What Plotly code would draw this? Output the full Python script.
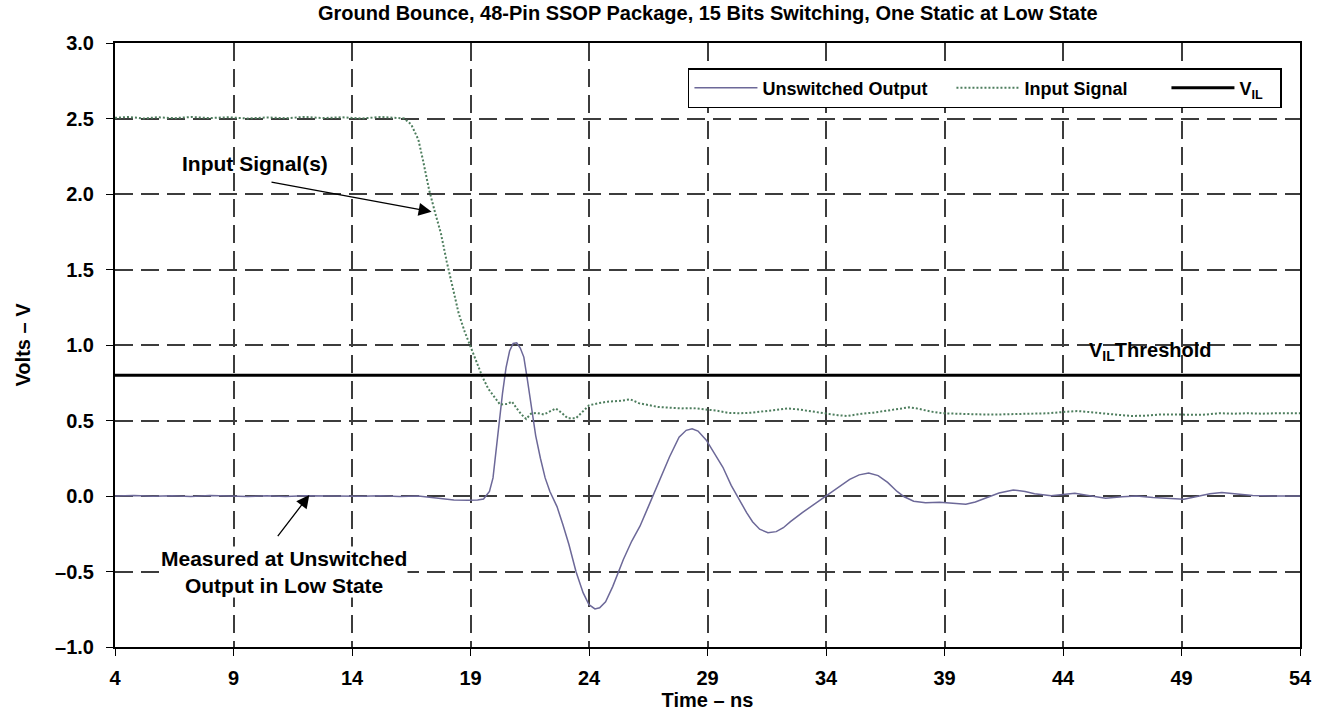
import plotly.graph_objects as go

# ---------------- data ----------------
out_x = [4.0, 4.8, 5.6, 6.4, 7.2, 8.0, 8.8, 9.6, 10.4, 11.2, 12.0, 12.8, 13.6, 14.4, 15.2, 16.0, 16.8,
         17.3, 17.8, 18.3, 18.9, 19.3, 19.55, 19.8, 19.95, 20.05, 20.2, 20.35, 20.5, 20.65, 20.8, 20.95,
         21.1, 21.25, 21.4, 21.55, 21.75, 21.95, 22.15, 22.35, 22.65, 22.9, 23.15, 23.45, 23.75, 24.0,
         24.25, 24.45, 24.7, 25.0, 25.45, 25.8, 26.15, 26.45, 26.7, 27.05, 27.4, 27.8, 28.1, 28.35, 28.6,
         28.95, 29.3, 29.65, 30.0, 30.35, 30.65, 30.9, 31.2, 31.55, 31.9, 32.2, 32.5, 33.0, 33.5, 34.0,
         34.5, 35.0, 35.4, 35.8, 36.2, 36.6, 37.0, 37.3, 37.7, 38.2, 38.8, 39.4, 39.9, 40.3, 40.8, 41.3,
         41.9, 42.4, 42.8, 43.5, 44.0, 44.5, 45.0, 45.8, 46.5, 47.1, 47.8, 48.5, 49.1, 49.6, 50.2, 50.7,
         51.3, 52.0, 52.8, 53.5, 54.0]
out_y = [0.0, 0.003, -0.002, 0.002, -0.003, 0.003, 0.0, -0.004, 0.002, -0.003, 0.002, 0.0, 0.003, -0.002,
         0.002, -0.003, 0.0, -0.008, -0.02, -0.026, -0.028, -0.027, -0.02, 0.03, 0.12, 0.26, 0.48, 0.68,
         0.85, 0.96, 1.01, 1.015, 0.98, 0.92, 0.77, 0.60, 0.40, 0.25, 0.12, 0.03, -0.07, -0.19, -0.32,
         -0.50, -0.64, -0.72, -0.748, -0.74, -0.70, -0.60, -0.42, -0.30, -0.20, -0.09, 0.0, 0.13, 0.26,
         0.39, 0.435, 0.445, 0.43, 0.37, 0.28, 0.19, 0.07, -0.03, -0.11, -0.17, -0.22, -0.243, -0.236,
         -0.21, -0.17, -0.11, -0.055, 0.0, 0.06, 0.11, 0.14, 0.152, 0.135, 0.09, 0.03, -0.005, -0.035,
         -0.045, -0.042, -0.05, -0.055, -0.04, -0.01, 0.02, 0.04, 0.03, 0.015, 0.002, 0.01, 0.018, 0.005,
         -0.015, -0.005, 0.0, -0.01, -0.015, -0.022, -0.005, 0.015, 0.024, 0.015, 0.003, 0.0, 0.0, 0.0]

in_x = [4.0, 4.6, 5.2, 5.8, 6.5, 7.2, 8.0, 8.8, 9.6, 10.4, 11.2, 12.0, 12.8, 13.6, 14.4, 15.2, 15.8, 16.2,
        16.5, 16.8, 17.0, 17.25, 17.5, 17.75, 18.0, 18.25, 18.5, 18.75, 19.0, 19.25, 19.5, 19.75, 20.0,
        20.25, 20.55, 20.75, 20.95, 21.15, 21.35, 21.55, 21.8, 22.1, 22.35, 22.6, 22.85, 23.1, 23.45,
        23.75, 24.0, 24.4, 24.8, 25.3, 25.75, 26.1, 26.5, 26.9, 27.4, 27.9, 28.4, 28.9, 29.4, 29.9, 30.4,
        30.9, 31.4, 31.9, 32.4, 32.9, 33.4, 34.0, 34.5, 34.9, 35.5, 36.0, 36.6, 37.1, 37.5, 37.9, 38.4,
        38.9, 39.5, 40.1, 40.6, 41.3, 42.0, 42.7, 43.4, 44.0, 44.6, 45.1, 45.7, 46.3, 46.9, 47.5, 48.1,
        48.7, 49.3, 49.9, 50.6, 51.2, 51.8, 52.4, 53.0, 53.6, 54.0]
in_y = [2.505, 2.51, 2.50, 2.508, 2.502, 2.51, 2.503, 2.508, 2.50, 2.507, 2.502, 2.51, 2.503, 2.508, 2.50,
        2.51, 2.505, 2.50, 2.46, 2.36, 2.22, 2.03, 1.88, 1.74, 1.55, 1.38, 1.21, 1.09, 0.99, 0.89, 0.79,
        0.71, 0.655, 0.605, 0.61, 0.625, 0.58, 0.54, 0.51, 0.545, 0.55, 0.54, 0.56, 0.58, 0.55, 0.515,
        0.515, 0.56, 0.60, 0.615, 0.625, 0.63, 0.64, 0.615, 0.60, 0.59, 0.585, 0.58, 0.582, 0.575, 0.565,
        0.55, 0.548, 0.552, 0.562, 0.575, 0.58, 0.572, 0.56, 0.548, 0.535, 0.53, 0.545, 0.552, 0.565,
        0.58, 0.587, 0.578, 0.56, 0.548, 0.545, 0.54, 0.54, 0.54, 0.542, 0.545, 0.548, 0.556, 0.563,
        0.556, 0.545, 0.538, 0.53, 0.532, 0.54, 0.54, 0.543, 0.538, 0.548, 0.545, 0.548, 0.545, 0.548,
        0.55, 0.548]

vil_x = [4, 54]
vil_y = [0.8, 0.8]

x_ticks = [4, 9, 14, 19, 24, 29, 34, 39, 44, 49, 54]
y_ticks = [-1.0, -0.5, 0.0, 0.5, 1.0, 1.5, 2.0, 2.5, 3.0]
y_ticktext = ['\u20131.0', '\u20130.5', '0.0', '0.5', '1.0', '1.5', '2.0', '2.5', '3.0']

FONT = 'Liberation Sans, Arial, sans-serif'

fig = go.Figure()
fig.add_trace(go.Scatter(x=out_x, y=out_y, mode='lines', name='Unswitched Output', legendwidth=184,
                         line=dict(color='#6c6898', width=1.5)))
fig.add_trace(go.Scatter(x=in_x, y=in_y, mode='lines', name='Input Signal', legendwidth=137,
                         line=dict(color='#4e7e5e', width=2, dash='2px,2px')))
fig.add_trace(go.Scatter(x=vil_x, y=vil_y, mode='lines', name='V<sub>IL</sub>', legendwidth=36,
                         line=dict(color='black', width=3)))

axis_common = dict(showline=True, linecolor='black', linewidth=2, mirror=True,
                   ticks='outside', ticklen=7, tickwidth=1, tickcolor='black',
                   showgrid=True, gridcolor='#3c3c3c', gridwidth=1.5, griddash='18px,8px',
                   zeroline=False, automargin=False,
                   tickfont=dict(size=20, color='black', family=FONT, weight='bold'))

fig.update_xaxes(range=[4, 54], tickvals=x_ticks, ticklabelstandoff=5, **axis_common,
                 title=dict(text='Time \u2013 ns', font=dict(size=20, family=FONT, weight='bold'), standoff=5))
fig.update_yaxes(range=[-1, 3], tickvals=y_ticks, ticktext=y_ticktext, ticklabelstandoff=8, **axis_common,
                 title=dict(text='Volts \u2013 V', font=dict(size=20, family=FONT, weight='bold'), standoff=19))

# annotations
fig.add_annotation(x=9.9, y=2.205, xref='x', yref='y', text='Input Signal(s)', showarrow=False,
                   font=dict(size=21, family=FONT, weight='bold', color='black'))
fig.add_annotation(x=17.36, y=1.883, ax=10.54, ay=2.081, xref='x', yref='y', axref='x', ayref='y',
                   text='', showarrow=True, arrowhead=2, arrowsize=2, arrowwidth=1.3, arrowcolor='black',
                   standoff=0, startstandoff=0)
fig.add_annotation(x=11.15, y=-0.5, xref='x', yref='y',
                   text='Measured at Unswitched<br>Output in Low State', showarrow=False,
                   bgcolor='white', borderpad=0,
                   font=dict(size=21, family=FONT, weight='bold', color='black'))
fig.add_annotation(x=12.2, y=0.007, ax=10.82, ay=-0.276, xref='x', yref='y', axref='x', ayref='y',
                   text='', showarrow=True, arrowhead=2, arrowsize=2, arrowwidth=1.3, arrowcolor='black',
                   standoff=0, startstandoff=0)
fig.add_annotation(x=45.0, y=0.954, xref='x', yref='y', xanchor='left',
                   text='V<sub>IL</sub>Threshold', showarrow=False,
                   font=dict(size=20, family=FONT, weight='bold', color='black'))

fig.update_layout(
    width=1323, height=719,
    margin=dict(l=115, r=23, t=43, b=72),
    paper_bgcolor='white', plot_bgcolor='white',
    font=dict(family=FONT, size=20, color='black', weight='bold'),
    title=dict(text='Ground Bounce, 48-Pin SSOP Package, 15 Bits Switching, One Static at Low State',
               x=0.535, xanchor='center', y=0.982, yanchor='middle',
               font=dict(size=20, family=FONT, weight='bold', color='black')),
    legend=dict(orientation='h', x=0.4835, xanchor='left', y=0.9586, yanchor='top',
                itemwidth=63,
                bgcolor='white', bordercolor='black', borderwidth=1.5,
                font=dict(size=18, family=FONT, weight='bold', color='black')),
    showlegend=True,
)

fig.write_html('out.html')
